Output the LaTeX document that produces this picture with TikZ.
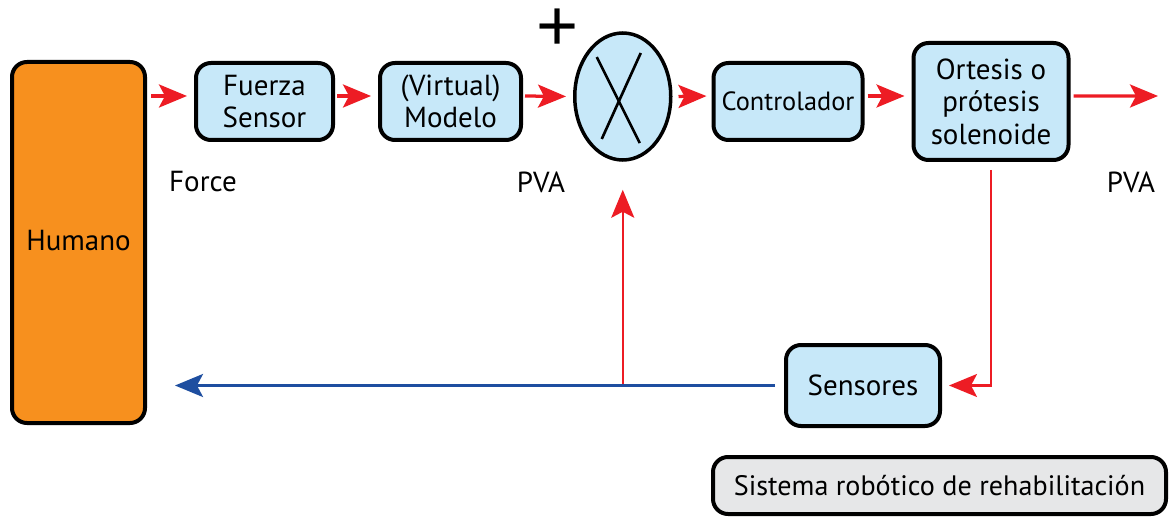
\documentclass[tikz,border=0pt]{standalone}
\usepackage{fontspec}
\setmainfont{PT Sans}
\newfontfamily\signofont{Liberation Sans}
\usetikzlibrary{positioning}
\usetikzlibrary{arrows.meta}
\usetikzlibrary{shapes.geometric}

\definecolor{naranja}{HTML}{F7901E}
\definecolor{celeste}{HTML}{C7E8F9}
\definecolor{rojo}{HTML}{ED1C24}
\definecolor{azul}{HTML}{1E4EA0}
\definecolor{gris}{HTML}{E6E7E8}

\begin{document}
\begin{tikzpicture}[
  caja/.style={rectangle, draw, line width=0.08cm, rounded corners=0.3cm, fill=celeste, align=center, inner sep=0pt, font=\fontsize{16.5}{18.5}\selectfont},
  etiqueta/.style={font=\fontsize{16.5}{18.5}\selectfont},
  punta/.style={-{Stealth[length=0.56cm,width=0.46cm,inset=0.12cm]}},
  flecha/.style={draw=rojo, line width=0.065cm, punta, shorten <=0.08cm, shorten >=0.14cm}]
\useasboundingbox (0,0) rectangle (23.38,-10.34);
\node[caja,fill=naranja,minimum width=2.66cm,minimum height=7.22cm] (humano) at (1.57,-4.85) {\raisebox{0.1cm}{Humano}};
\node[caja,minimum width=2.74cm,minimum height=1.54cm] (fuerza) at (5.29,-2.03) {Fuerza\\Sensor};
\node[caja,minimum width=2.82cm,minimum height=1.54cm,right=0.86cm of fuerza] (modelo) {(Virtual)\\Modelo};
\node[ellipse,draw,line width=0.07cm,fill=celeste,inner sep=0pt,minimum width=1.92cm,minimum height=2.54cm,right=1.0cm of modelo,yshift=0.1cm] (mult) {};
\draw[line width=0.053cm] ([shift={(-0.52,0.79)}]mult.center) -- ([shift={(0.34,-0.93)}]mult.center);
\draw[line width=0.053cm] ([shift={(0.36,0.87)}]mult.center) -- ([shift={(-0.42,-0.85)}]mult.center);
\node[caja,minimum width=2.98cm,minimum height=1.54cm,right=0.78cm of mult,yshift=-0.1cm,font=\fontsize{15}{18}\selectfont] (controlador) {Controlador};
\node[caja,minimum width=3.1cm,minimum height=2.34cm,right=0.94cm of controlador] (ortesis) {Ortesis o\\prótesis\\solenoide};
\node[caja,minimum width=3.08cm,minimum height=1.62cm] (sensores) at (17.26,-7.71) {Sensores};
\node[caja,fill=gris,minimum width=9.06cm,minimum height=1.14cm,font=\fontsize{16}{18}\selectfont] (sistema) at (18.79,-9.71) {Sistema robótico de rehabilitación};
\node[inner sep=0pt] (mas) at (11.16,-0.6) {\signofont\fontsize{41}{41}\selectfont +};
\node[etiqueta] (force) at (4.06,-3.64) {Force};
\node[etiqueta] (pvaa) at (10.82,-3.64) {PVA};
\node[etiqueta] (pvab) at (22.62,-3.64) {PVA};
\coordinate (salida) at (23.16,-1.92);
\coordinate (nodo) at (mult.south |- sensores.west);
\draw[flecha] ([yshift=0.11cm]fuerza.west -| humano.east) -- ([yshift=0.11cm]fuerza.west);
\draw[flecha,shorten <=0.04cm] ([yshift=0.11cm]fuerza.east) -- ([yshift=0.11cm]modelo.west);
\draw[flecha,shorten <=0.04cm] ([yshift=0.11cm]modelo.east) -- (mult.west);
\draw[flecha,shorten <=0.12cm,shorten >=0.1cm] (mult.east) -- ([yshift=0.11cm]controlador.west);
\draw[flecha,shorten <=0.06cm] ([yshift=0.11cm]controlador.east) -- ([yshift=0.11cm]ortesis.west);
\draw[flecha,shorten <=0.06cm,shorten >=0cm] ([yshift=0.11cm]ortesis.east) -- (salida);
\draw[flecha,line width=0.05cm,shorten <=0.16cm] (ortesis.south) |- (sensores.east);
\draw[flecha,line width=0.05cm,shorten <=0cm,shorten >=0.56cm] (nodo) -- (mult.south);
\draw[draw=azul,fill=azul,line width=0.06cm,punta,shorten <=0.18cm,shorten >=0.56cm] (sensores.west) -- (humano.east |- sensores.west);
\end{tikzpicture}
\end{document}
